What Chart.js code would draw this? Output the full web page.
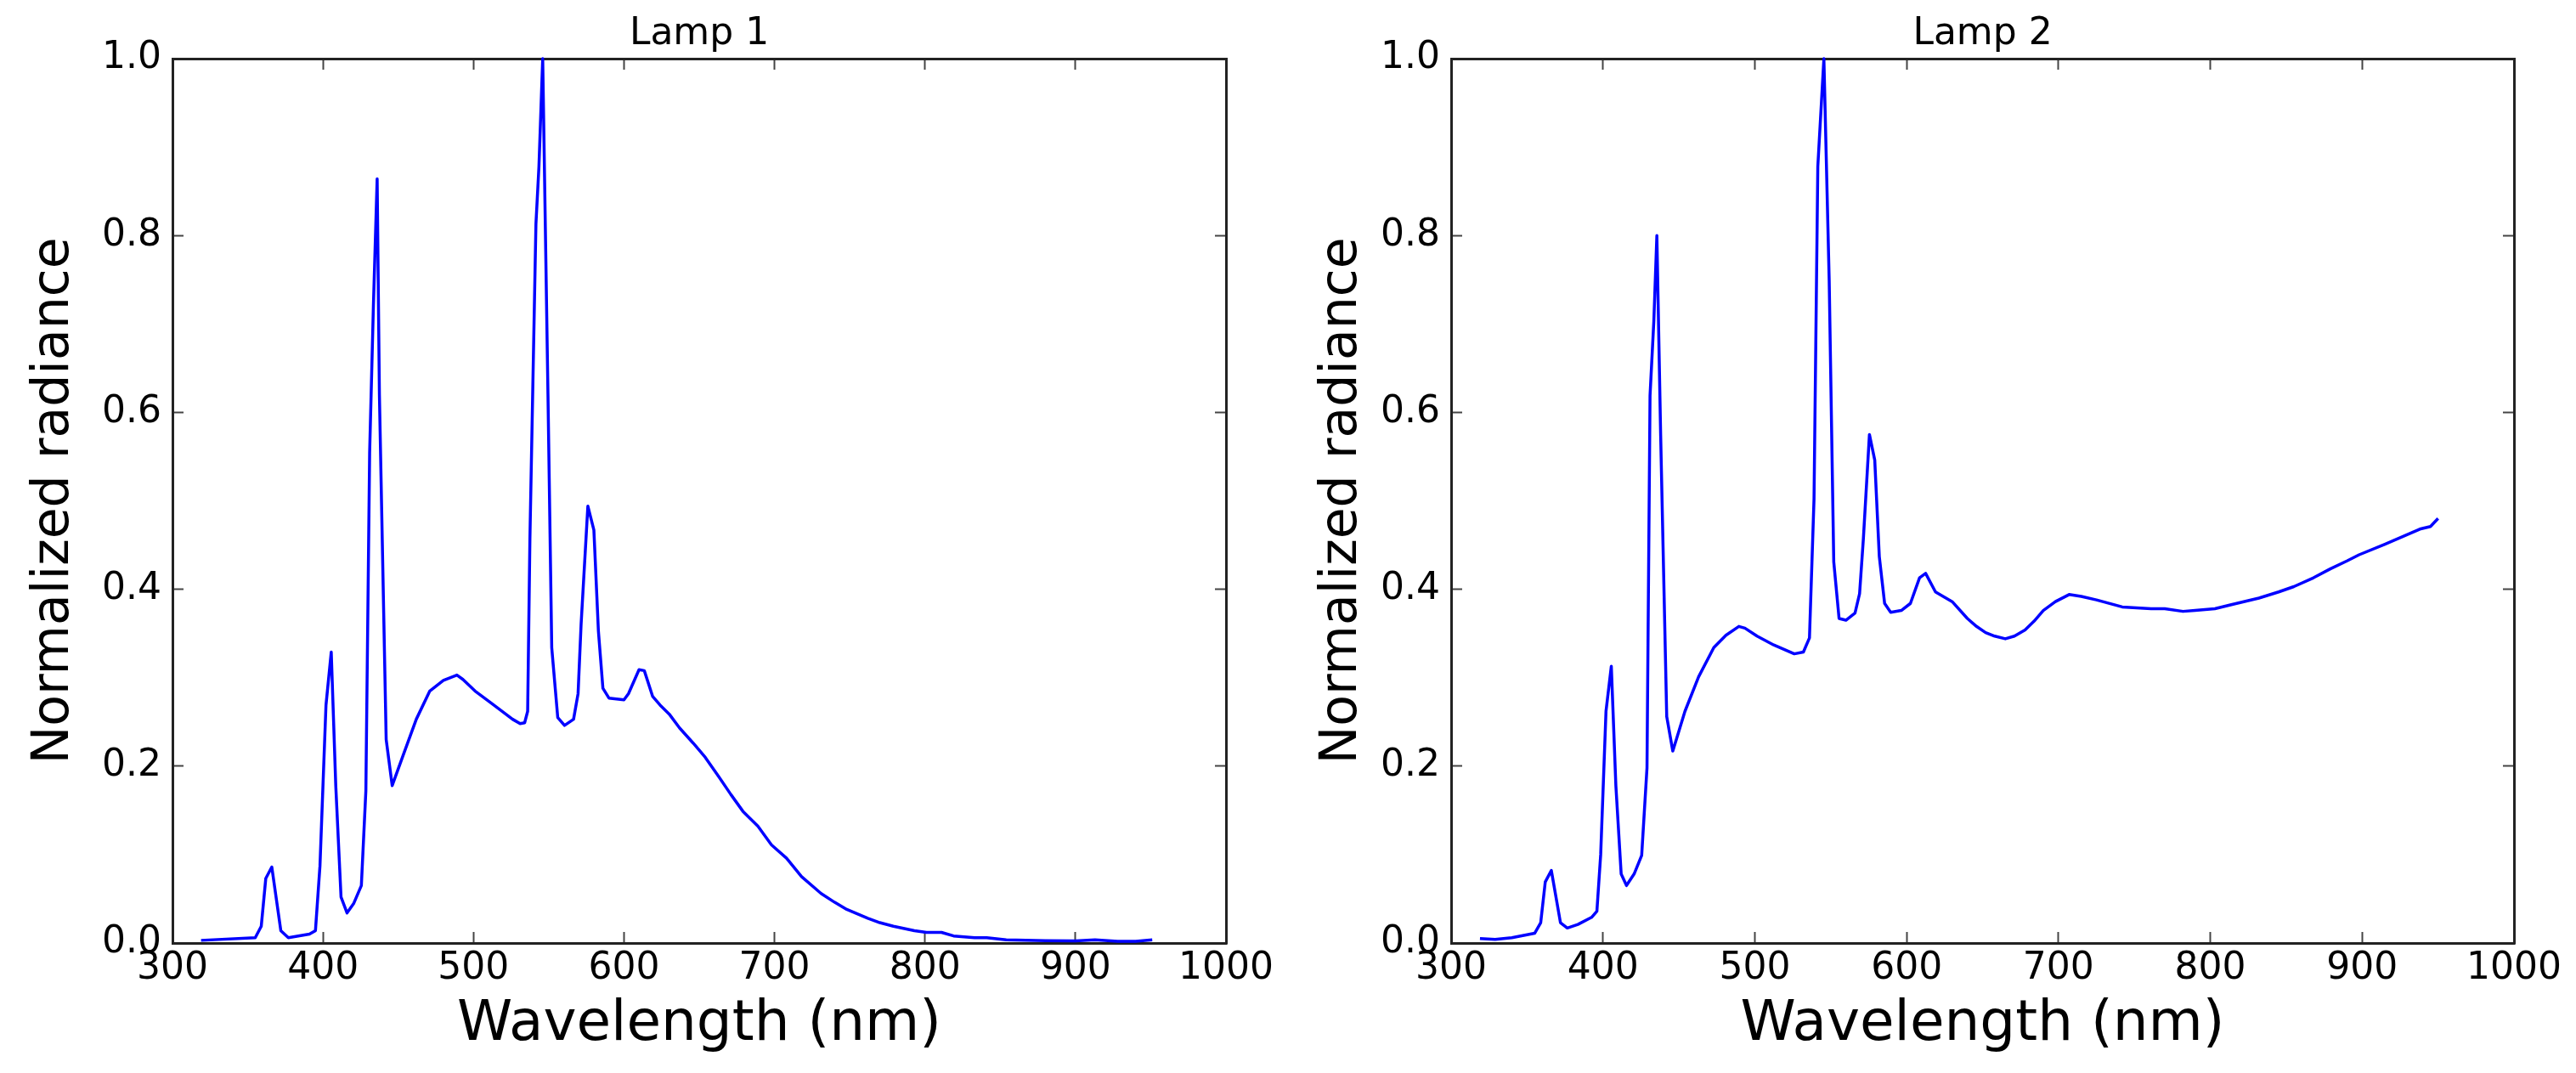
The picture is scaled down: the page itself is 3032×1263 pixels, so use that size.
<!DOCTYPE html>
<html>
<head>
<meta charset="utf-8">
<script src="https://cdn.jsdelivr.net/npm/chart.js@4"></script>
<style>
  html, body { margin: 0; padding: 0; background: #fff; }
  .panel { position: absolute; top: 0; width: 1516px; height: 1263px; }
</style>
</head>
<body>
<div class="panel" style="left:0"><canvas id="lamp1"></canvas></div>
<div class="panel" style="left:1516px"><canvas id="lamp2"></canvas></div>
<script>
// tick labels
const xTicks = [300, 400, 500, 600, 700, 800, 900, 1000];
const yTicks = [0, 0.2, 0.4, 0.6, 0.8, 1.0];

// Lamp 1 spectrum
const lamp1Wavelength = [319, 355, 359, 362, 366, 372, 377, 391, 395, 398, 402, 405.5, 408.5, 412, 416, 420.5,
  425.5, 428.5, 431, 433.5, 436, 437.5, 442, 446, 453, 462, 471, 480, 489, 493, 501, 512, 526, 531, 534, 536,
  537.5, 541.5, 543.5, 546, 549.5, 552, 556, 560.5, 566.5, 569.5, 571.5, 576, 580, 583, 586, 590, 600, 603,
  610, 613.5, 619, 624, 630, 637, 646, 654, 663, 671, 679, 689, 698, 708, 718, 731, 740, 748, 762, 770, 779,
  793, 801, 811, 819, 833, 841, 854, 880, 900, 913, 928, 940, 951];
const lamp1Radiance = [0.003, 0.006, 0.019, 0.073, 0.086, 0.014, 0.006, 0.010, 0.014, 0.087, 0.269, 0.329, 0.178,
  0.052, 0.034, 0.045, 0.065, 0.172, 0.554, 0.72, 0.864, 0.62, 0.23, 0.178, 0.211, 0.253, 0.285, 0.297, 0.303,
  0.298, 0.285, 0.271, 0.253, 0.248, 0.249, 0.262, 0.457, 0.813, 0.878, 1.0, 0.62, 0.334, 0.255, 0.246, 0.253,
  0.282, 0.36, 0.494, 0.467, 0.353, 0.288, 0.277, 0.275, 0.282, 0.309, 0.308, 0.279, 0.269, 0.259, 0.243,
  0.226, 0.21, 0.188, 0.168, 0.149, 0.132, 0.111, 0.096, 0.075, 0.056, 0.046, 0.038, 0.028, 0.023, 0.019,
  0.014, 0.012, 0.012, 0.008, 0.006, 0.006, 0.0035, 0.0026, 0.0023, 0.0035, 0.002, 0.002, 0.0035];

// Lamp 2 spectrum
const lamp2Wavelength = [319, 329, 340, 355, 359, 362, 366, 372, 376.5, 383.5, 392.5, 396, 398.5, 402, 405.5,
  408.5, 412, 415.5, 420.5, 425.5, 429, 431, 433.5, 435.5, 438, 442, 446, 454, 463, 473, 481, 489.5, 493.5,
  501.5, 512.5, 526, 532, 536, 539, 541.5, 545.5, 549, 552, 555.5, 560, 566, 569, 571.5, 575.5, 579, 582,
  585.5, 589.5, 596.5, 602.5, 608.5, 612.5, 619, 624, 630, 640, 646, 652, 658, 665, 671, 678, 684, 690, 698,
  707, 715, 725, 742, 761, 770, 782, 790, 803, 815, 832, 845, 855, 868, 879, 890, 898, 915, 926, 938, 945, 950];
const lamp2Radiance = [0.005, 0.004, 0.006, 0.011, 0.023, 0.069, 0.082, 0.023, 0.017, 0.021, 0.029, 0.036, 0.1,
  0.262, 0.313, 0.178, 0.078, 0.065, 0.078, 0.099, 0.198, 0.619, 0.703, 0.8, 0.574, 0.256, 0.217, 0.262, 0.301,
  0.334, 0.348, 0.358, 0.356, 0.347, 0.337, 0.327, 0.329, 0.345, 0.502, 0.878, 1.0, 0.749, 0.431, 0.367, 0.365,
  0.373, 0.395, 0.457, 0.575, 0.546, 0.437, 0.384, 0.374, 0.376, 0.384, 0.413, 0.418, 0.397, 0.392, 0.386,
  0.367, 0.358, 0.351, 0.347, 0.344, 0.347, 0.354, 0.364, 0.376, 0.386, 0.394, 0.392, 0.388, 0.380, 0.378,
  0.378, 0.375, 0.376, 0.378, 0.383, 0.390, 0.397, 0.403, 0.413, 0.423, 0.432, 0.439, 0.451, 0.459, 0.468,
  0.471, 0.480];

const FONT = "'DejaVu Sans', sans-serif";
const PANEL_W = 1516, PANEL_H = 1263, PLOT_BOTTOM = 1110;

// inside tick marks, drawn on all four sides like the original
const tickGrid = { drawOnChartArea: false, drawTicks: true, tickLength: -13, tickWidth: 2, tickColor: '#444' };
const frame = { display: true, color: '#222', width: 3 };

function useTicks(values) {
  return axis => { axis.ticks = values.map(v => ({ value: v })); };
}

function makeChart(id, title, wavelengths, radiance, plotLeft, plotRight) {
  const points = wavelengths.map((w, i) => ({ x: w, y: radiance[i] }));
  return new Chart(document.getElementById(id), {
    type: 'line',
    data: {
      datasets: [{
        data: points,
        borderColor: '#0000ff',
        borderWidth: 3.5,
        borderJoinStyle: 'round',
        pointRadius: 0,
        tension: 0,
        fill: false,
        clip: 4
      }]
    },
    options: {
      responsive: true,
      maintainAspectRatio: false,
      animation: false,
      layout: { padding: { left: 0, right: PANEL_W - plotRight, top: 0, bottom: 0 } },
      plugins: {
        legend: { display: false },
        tooltip: { enabled: false },
        title: {
          display: true,
          text: title,
          fullSize: false,
          color: '#000',
          font: { family: FONT, size: 44, weight: 'normal', lineHeight: 1.2 },
          padding: { top: 14, bottom: 2.2 }
        }
      },
      scales: {
        x: {
          type: 'linear', position: 'bottom', min: 300, max: 1000,
          afterBuildTicks: useTicks(xTicks),
          afterFit: s => { s.height = PANEL_H - PLOT_BOTTOM; },
          grid: tickGrid, border: frame,
          ticks: { color: '#000', padding: 17, maxRotation: 0, autoSkip: false,
            font: { family: FONT, size: 44, lineHeight: 1.2 }, callback: v => String(v) },
          title: { display: true, text: 'Wavelength (nm)', color: '#000',
            font: { family: FONT, size: 66, lineHeight: 1.2 }, padding: { top: 0, bottom: 17 } }
        },
        xTop: {
          type: 'linear', position: 'top', min: 300, max: 1000,
          afterBuildTicks: useTicks(xTicks),
          afterFit: s => { s.height = 0; },
          grid: tickGrid, border: frame, ticks: { display: false }
        },
        y: {
          type: 'linear', position: 'left', min: 0, max: 1,
          afterBuildTicks: useTicks(yTicks),
          afterFit: s => { s.width = plotLeft; },
          grid: tickGrid, border: frame,
          ticks: { color: '#000', padding: 26, autoSkip: false,
            font: { family: FONT, size: 44, lineHeight: 1.2 }, callback: v => v.toFixed(1) },
          title: { display: true, text: 'Normalized radiance', color: '#000',
            font: { family: FONT, size: 60, lineHeight: 1.2 }, padding: { top: 28, bottom: 0 } }
        },
        yRight: {
          type: 'linear', position: 'right', min: 0, max: 1,
          afterBuildTicks: useTicks(yTicks),
          afterFit: s => { s.width = 0; },
          grid: tickGrid, border: frame, ticks: { display: false }
        }
      }
    }
  });
}

makeChart('lamp1', 'Lamp 1', lamp1Wavelength, lamp1Radiance, 203, 1457);
makeChart('lamp2', 'Lamp 2', lamp2Wavelength, lamp2Radiance, 192, 1444);
</script>
</body>
</html>
